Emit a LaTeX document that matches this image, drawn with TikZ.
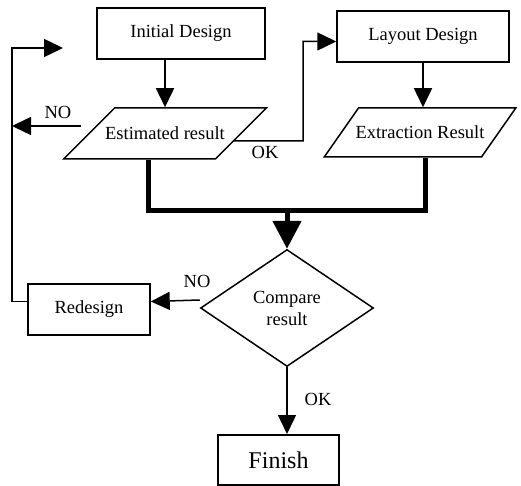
\documentclass[tikz,border=0pt]{standalone}
\usepackage{fontspec}
\setmainfont{Liberation Serif}
\usetikzlibrary{shapes.geometric,arrows.meta}

\begin{document}
\begin{tikzpicture}[x=1pt, y=-1pt, box/.style={draw, rectangle, line width=1.5pt, font=\fontsize{18.5}{22}\selectfont}, io/.style={draw, trapezium, line width=1.5pt, text height=13pt, text depth=0pt, font=\fontsize{18.5}{22}\selectfont}, decision/.style={draw, diamond, line width=1.5pt, align=center, inner sep=0pt, font=\fontsize{18.5}{22}\selectfont}, lbl/.style={font=\fontsize{18.5}{22}\selectfont}, n/.style={-{Triangle[length=19pt, width=18pt]}, line width=1.5pt}, t/.style={line width=5pt}]
            \useasboundingbox (0,0) rectangle (521,486);
            % nodes
            \node[box, minimum width=168, minimum height=51] (init) at (181,33.5) {Initial Design};
            \node[box, minimum width=172, minimum height=51] (layout) at (423,36.5) {Layout Design};
            \node[io, trapezium left angle=45, trapezium right angle=135, inner xsep=-9.5pt, inner ysep=19pt] (est) at (165,133.5) {Estimated result};
            \node[io, trapezium left angle=55, trapezium right angle=125, inner xsep=-3pt, inner ysep=18pt] (extr) at (420,132.5) {Extraction Result};
            \node[decision, minimum width=173, minimum height=117] (cmp) at (287,308) {Compare\\result};
            \node[box, minimum width=122, minimum height=51] (redesign) at (89,309.5) {Redesign};
            \node[box, line width=2pt, minimum width=121, minimum height=50, font=\fontsize{24}{28}\selectfont] (finish) at (278.5,460) {Finish};
            \node[lbl] (no1) at (58,112) {NO};
            \node[lbl] (ok1) at (265,152) {OK};
            \node[lbl] (no2) at (197,281) {NO};
            \node[lbl] (ok2) at (318,399) {OK};
            \coordinate (merge) at (287,210);
            \coordinate (back) at (12,48);
            \coordinate (loopin) at (63,48);
            \coordinate (okturn) at (303,141);
            % edges
            \draw [n] (init.south -| est.north) -- (est.north);
            \draw [n] (layout.south) -- (layout.south |- extr.north);
            \draw [t] ([xshift=-17pt]est.south) |- (merge) -| ([xshift=5pt]extr.south);
            \draw [t, -{Triangle[length=28pt, width=28pt]}] (merge) -- (cmp.north);
            \draw [n] ([xshift=-8pt, yshift=-7.5pt]est.east) -- (okturn) |- ([yshift=-5pt]layout.west);
            \draw [n] ([xshift=-7.5pt, yshift=7.5pt]est.west) -- ([yshift=7.5pt]est.west -| back);
            \draw [n] ([yshift=8pt]redesign.west) -| (back) -- (loopin);
            \draw [n] ([yshift=8pt]cmp.west) -- ([yshift=8pt]redesign.east);
            \draw [n] (cmp.south) -- (cmp.south |- finish.north);
        \end{tikzpicture}
\end{document}
